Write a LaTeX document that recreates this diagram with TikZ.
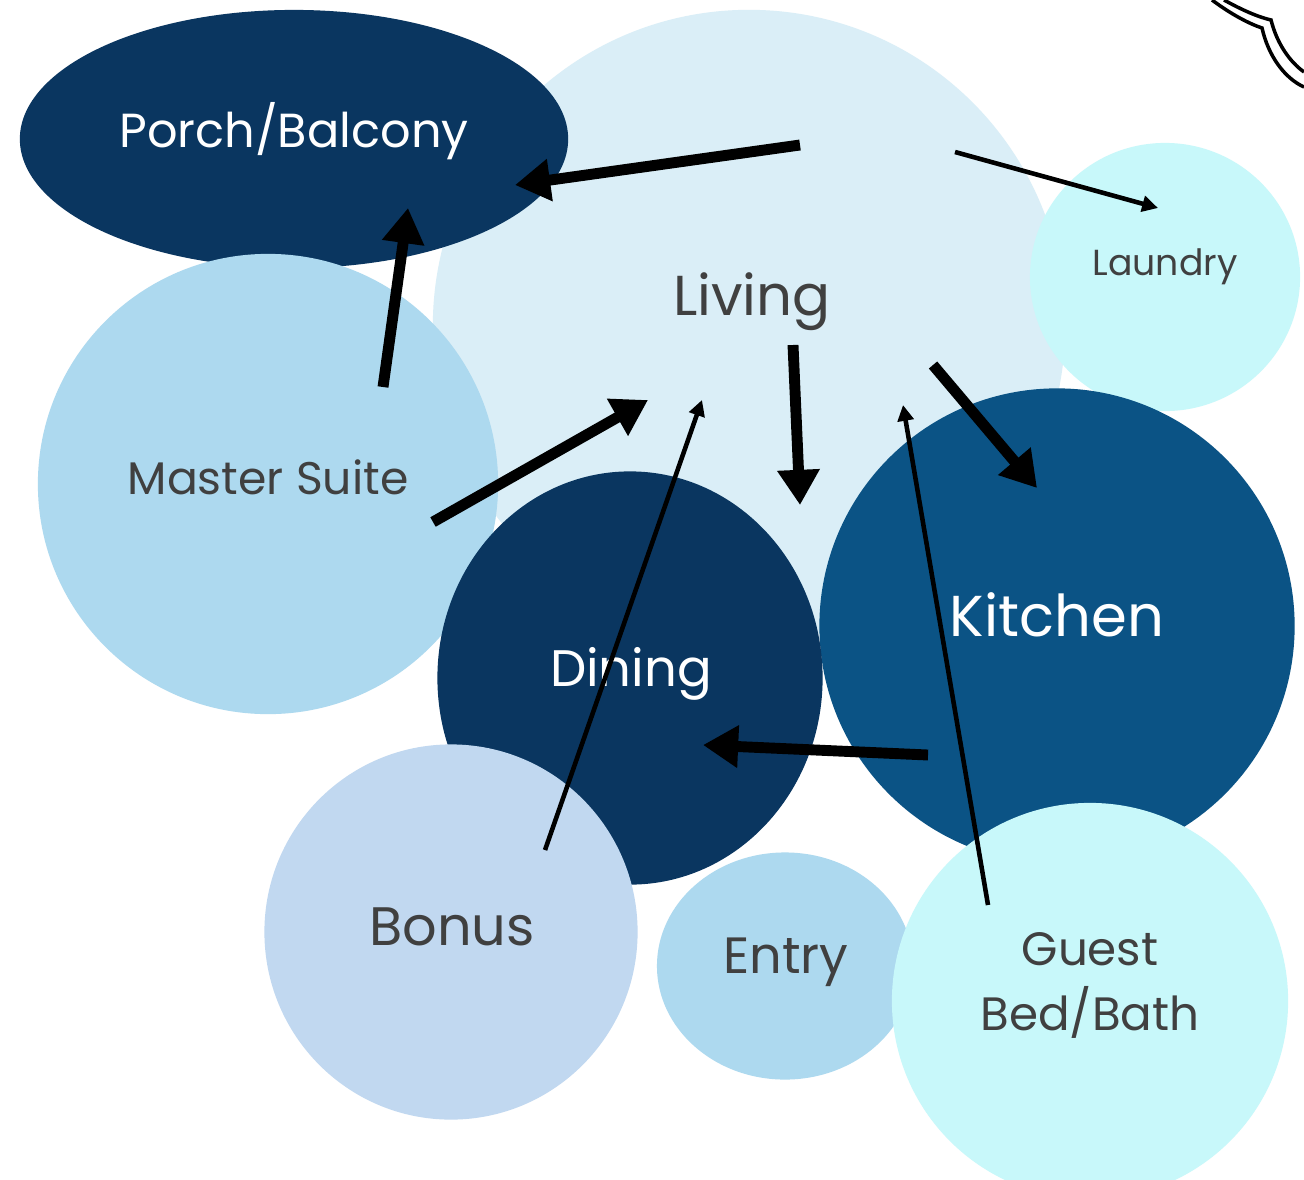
\documentclass[tikz,border=0pt]{standalone}
\usepackage{fontspec}
\setmainfont{Poppins}
\usetikzlibrary{arrows.meta,shapes.geometric}
\definecolor{livingC}{RGB}{218,238,247}
\definecolor{navyC}{RGB}{10,54,96}
\definecolor{skyC}{RGB}{173,217,239}
\definecolor{cyanC}{RGB}{200,248,250}
\definecolor{kitchenC}{RGB}{11,83,133}
\definecolor{bonusC}{RGB}{193,216,240}
\definecolor{txtC}{RGB}{64,64,64}
\tikzset{
  room/.style={ellipse,inner sep=0pt,draw=none},
  darklbl/.style={text=white,inner sep=0pt},
  lightlbl/.style={text=txtC,inner sep=0pt,align=center},
  thickarrow/.style={line width=3.1pt,-{Triangle[length=10pt,width=11.5pt]}},
  thinarrow/.style={line width=1.3pt,-{Triangle[length=4.5pt,width=4.5pt]}},
  cloudline/.style={line width=1pt,black}
}
\begin{document}
\begin{tikzpicture}[x=0.01cm,y=-0.01cm]
\useasboundingbox[fill=white] (0,0) rectangle (1304,1179);
% rooms
\node[room,fill=livingC,minimum width=6.32cm,minimum height=6.32cm] (living) at (749,326) {};
\node[room,fill=navyC,minimum width=5.48cm,minimum height=2.58cm] (porch) at (294,139) {};
\node[room,fill=skyC,minimum width=4.6cm,minimum height=4.6cm] (master) at (268,484) {};
\node[room,fill=cyanC,minimum width=2.7cm,minimum height=2.68cm] (laundry) at (1165,277) {};
\node[room,fill=kitchenC,minimum width=4.75cm,minimum height=4.75cm] (kitchen) at (1057,626) {};
\node[room,fill=navyC,minimum width=3.85cm,minimum height=4.13cm] (dining) at (630,678) {};
\node[room,fill=bonusC,minimum width=3.73cm,minimum height=3.75cm] (bonus) at (451,932) {};
\node[room,fill=skyC,minimum width=2.56cm,minimum height=2.27cm] (entry) at (785,966) {};
\node[room,fill=cyanC,minimum width=3.96cm,minimum height=3.96cm] (guest) at (1090,1001) {};
% top-right cloud outline
\draw[cloudline] (1212,0) .. controls (1232,15) and (1250,24) .. (1262,28)
  .. controls (1268,55) and (1284,78) .. (1304,87);
\draw[cloudline] (1224,0) .. controls (1242,10) and (1258,17) .. (1271,20)
  .. controls (1277,44) and (1290,62) .. (1304,72);
% labels
\node[darklbl,font=\fontsize{13.6}{16}\selectfont] (lporch) at (294,131) {Porch/Balcony};
\node[lightlbl,font=\fontsize{16}{19}\selectfont] (lliving) at (752,302) {Living};
\node[lightlbl,font=\fontsize{10.3}{12}\selectfont] (llaundry) at (1165,267) {Laundry};
\node[lightlbl,font=\fontsize{13}{16}\selectfont] (lmaster) at (268,477) {Master Suite};
\node[darklbl,font=\fontsize{16.4}{19}\selectfont] (lkitchen) at (1057,615) {Kitchen};
\node[darklbl,font=\fontsize{14.6}{17}\selectfont] (ldining) at (631,674) {Dining};
\node[lightlbl,font=\fontsize{15.4}{18}\selectfont] (lbonus) at (452,927) {Bonus};
\node[lightlbl,font=\fontsize{14.5}{17}\selectfont] (lentry) at (786,962) {Entry};
\node[lightlbl,font=\fontsize{13.3}{18.5}\selectfont] (lguest) at (1090,985) {Guest\\Bed/Bath};
% arrow end points
\coordinate (a1s) at (800,145); \coordinate (a1e) at (515,185);
\coordinate (a2s) at (955,152); \coordinate (a2e) at (1158,208);
\coordinate (a3s) at (383,387); \coordinate (a3e) at (408,208);
\coordinate (a4s) at (433,522); \coordinate (a4e) at (648,400);
\coordinate (a5s) at (545,850); \coordinate (a5e) at (702,400);
\coordinate (a6s) at (793,345); \coordinate (a6e) at (800,505);
\coordinate (a7s) at (988,905); \coordinate (a7e) at (903,405);
\coordinate (a8s) at (933,365); \coordinate (a8e) at (1037,488);
\coordinate (a9s) at (928,755); \coordinate (a9e) at (703,745);
% arrows
\draw[thickarrow] (a1s) -- (a1e);
\draw[thinarrow] (a2s) -- (a2e);
\draw[thickarrow] (a3s) -- (a3e);
\draw[thickarrow] (a4s) -- (a4e);
\draw[thinarrow] (a5s) -- (a5e);
\draw[thickarrow] (a6s) -- (a6e);
\draw[thinarrow] (a7s) -- (a7e);
\draw[thickarrow] (a8s) -- (a8e);
\draw[thickarrow] (a9s) -- (a9e);
\end{tikzpicture}
\end{document}
